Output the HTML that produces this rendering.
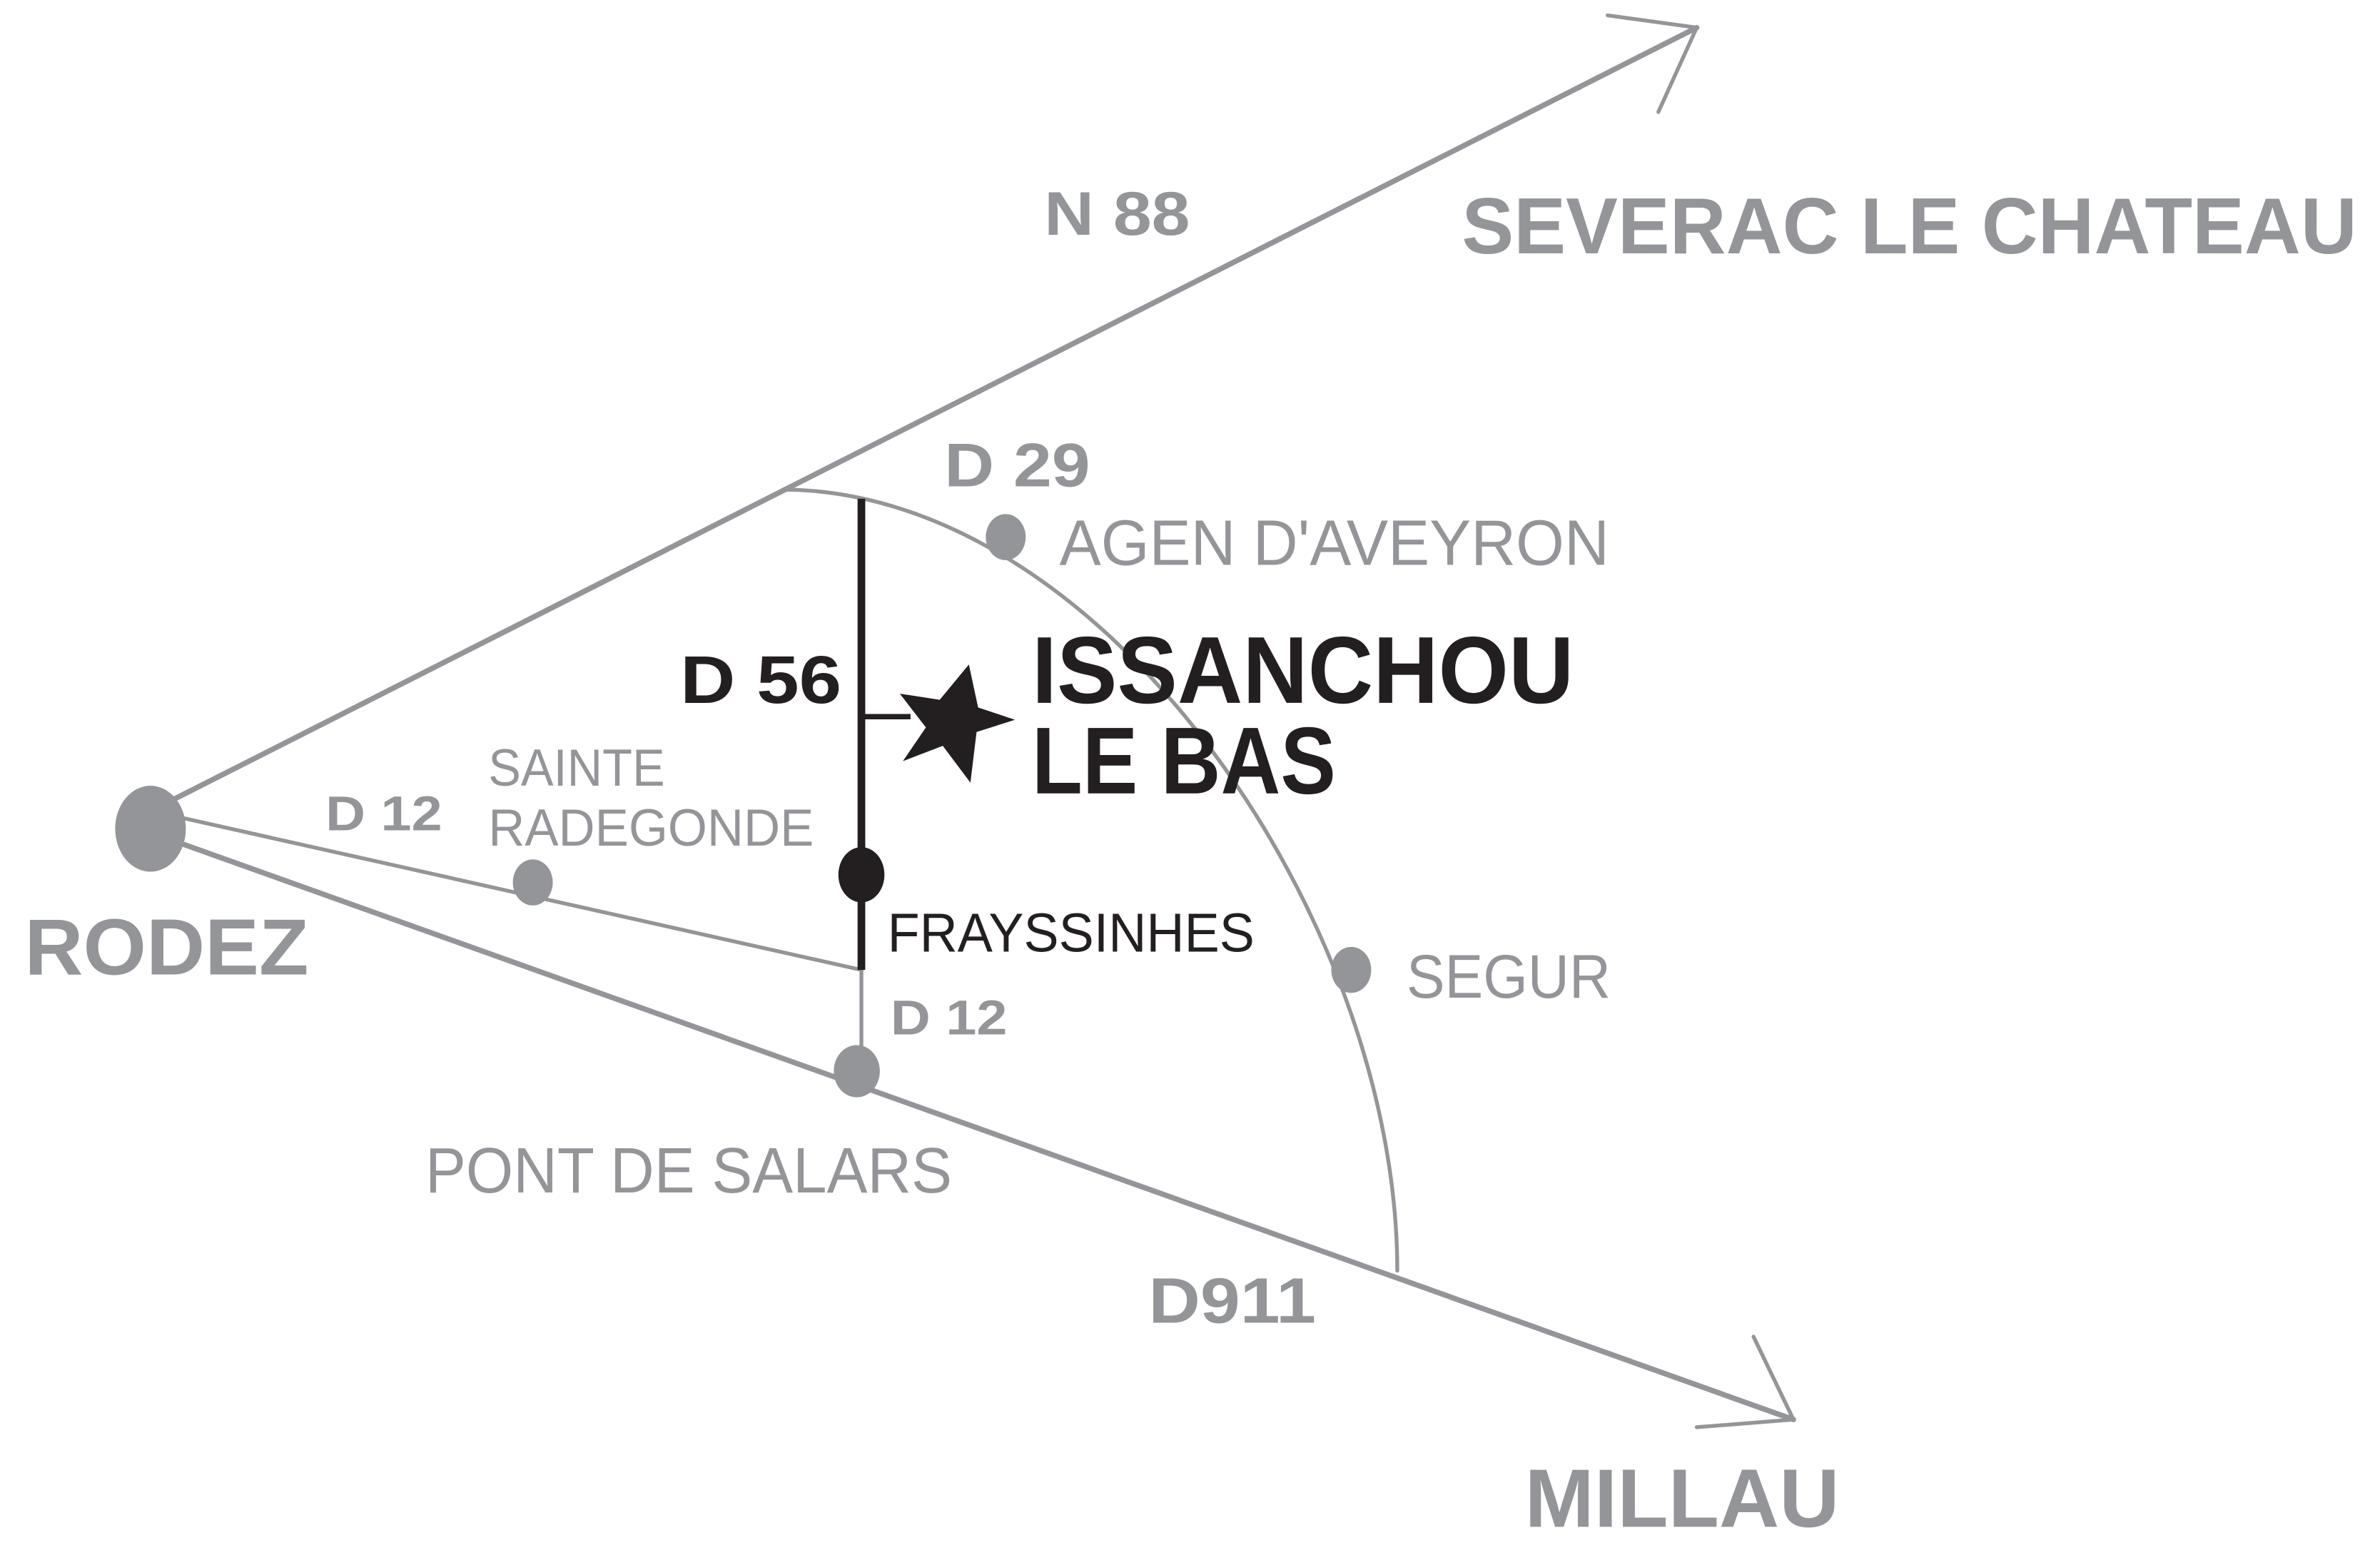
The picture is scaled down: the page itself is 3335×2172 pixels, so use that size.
<!DOCTYPE html>
<html><head><meta charset="utf-8">
<style>
html,body{margin:0;padding:0;background:#fff;}
svg{display:block;}
text{font-family:"Liberation Sans",sans-serif;}
</style></head>
<body>
<svg width="3335" height="2172" viewBox="0 0 1550 1010" preserveAspectRatio="none" xmlns="http://www.w3.org/2000/svg">
<rect width="1550" height="1010" fill="#fff"/>
<g stroke="#939598" fill="none" stroke-linecap="round">
  <line x1="105" y1="525" x2="1105" y2="18" stroke-width="3.5"/>
  <line x1="1047" y1="10" x2="1105" y2="18" stroke-width="2.5"/>
  <line x1="1080" y1="73" x2="1105" y2="18" stroke-width="2.5"/>
  <line x1="105" y1="545" x2="1168" y2="925" stroke-width="3.5"/>
  <line x1="1142" y1="871" x2="1168" y2="925" stroke-width="2.5"/>
  <line x1="1105" y1="930" x2="1168" y2="925" stroke-width="2.5"/>
  <line x1="110" y1="531" x2="561" y2="632" stroke-width="2.5"/>
  <line x1="561" y1="632" x2="561" y2="698" stroke-width="2.5"/>
  <path d="M510,319 C720,320 910,600 910,828" stroke-width="2.5"/>
</g>
<g fill="#939598">
  <ellipse cx="98" cy="540" rx="23" ry="28"/>
  <ellipse cx="655" cy="350" rx="13" ry="15"/>
  <ellipse cx="880" cy="632" rx="13" ry="15"/>
  <ellipse cx="347" cy="575" rx="13" ry="15"/>
  <ellipse cx="558" cy="698" rx="15" ry="17"/>
</g>
<g stroke="#231f20" fill="none" stroke-width="5">
  <line x1="561" y1="325" x2="561" y2="632"/>
  <line x1="563" y1="467" x2="593" y2="467" stroke-width="3.5"/>
</g>
<ellipse cx="561" cy="570" rx="15" ry="18" fill="#231f20"/>
<polygon fill="#231f20" points="631,433 637,461 661,469 636,477 632,510 614,486 588,496 603,474 586,452 612,456"/>
<g fill="#939598" font-weight="bold">
  <text x="680" y="153" font-size="40" textLength="95" lengthAdjust="spacingAndGlyphs">N 88</text>
  <text x="952" y="165" font-size="52" textLength="583" lengthAdjust="spacingAndGlyphs">SEVERAC LE CHATEAU</text>
  <text x="615" y="317" font-size="40" textLength="95" lengthAdjust="spacingAndGlyphs">D 29</text>
  <text x="212" y="541" font-size="32" textLength="76" lengthAdjust="spacingAndGlyphs">D 12</text>
  <text x="16" y="635" font-size="52" textLength="185" lengthAdjust="spacingAndGlyphs">RODEZ</text>
  <text x="580" y="674" font-size="32" textLength="76" lengthAdjust="spacingAndGlyphs">D 12</text>
  <text x="748" y="862" font-size="42" textLength="109" lengthAdjust="spacingAndGlyphs">D911</text>
  <text x="993" y="995" font-size="54" textLength="205" lengthAdjust="spacingAndGlyphs">MILLAU</text>
</g>
<g fill="#939598">
  <text x="690" y="368" font-size="42" textLength="358" lengthAdjust="spacingAndGlyphs">AGEN D'AVEYRON</text>
  <text x="318" y="512" font-size="34" textLength="115" lengthAdjust="spacingAndGlyphs">SAINTE</text>
  <text x="318" y="551" font-size="34" textLength="212" lengthAdjust="spacingAndGlyphs">RADEGONDE</text>
  <text x="916" y="650" font-size="40" textLength="133" lengthAdjust="spacingAndGlyphs">SEGUR</text>
  <text x="277" y="777" font-size="42" textLength="343" lengthAdjust="spacingAndGlyphs">PONT DE SALARS</text>
</g>
<g fill="#231f20">
  <text x="443" y="458" font-size="44" font-weight="bold" textLength="105" lengthAdjust="spacingAndGlyphs">D 56</text>
  <text x="672" y="458" font-size="62" font-weight="bold" textLength="353" lengthAdjust="spacingAndGlyphs">ISSANCHOU</text>
  <text x="672" y="517" font-size="62" font-weight="bold" textLength="198" lengthAdjust="spacingAndGlyphs">LE BAS</text>
  <text x="578" y="620" font-size="36" textLength="239" lengthAdjust="spacingAndGlyphs">FRAYSSINHES</text>
</g>
</svg>
</body></html>
